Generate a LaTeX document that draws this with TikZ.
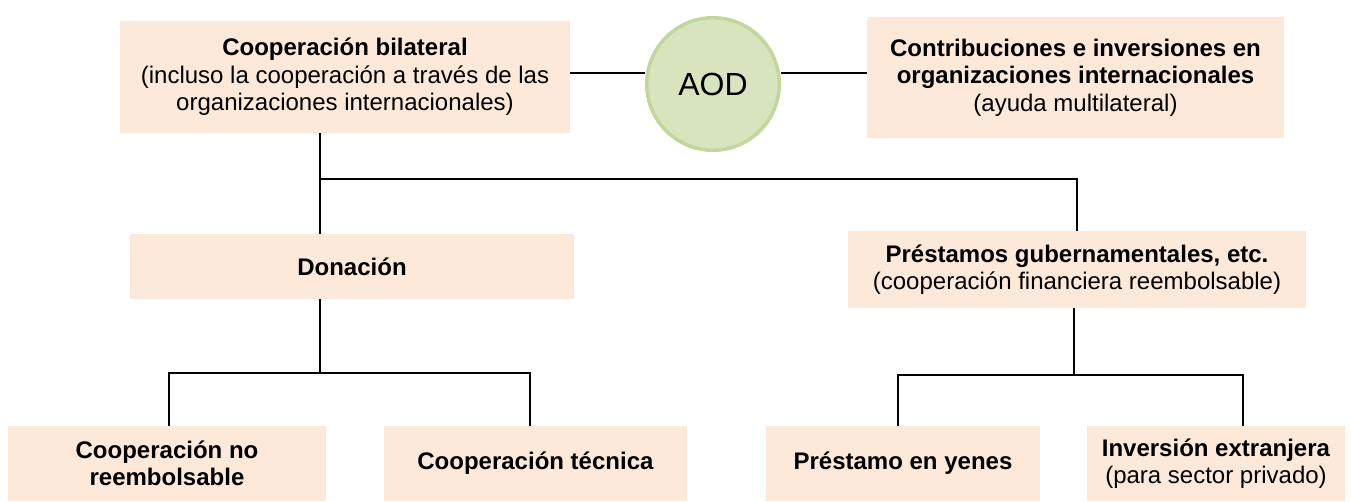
\documentclass[tikz,border=0pt]{standalone}
\usepackage{fontspec}
\setmainfont{Liberation Sans}
\usetikzlibrary{shapes.geometric, positioning}
\definecolor{peach}{HTML}{FDE9D9}
\definecolor{aodfill}{HTML}{D7E4BD}
\definecolor{aoddraw}{HTML}{C3D69B}
\tikzstyle{conn} = [line width=1.5pt, black]
\tikzstyle{block} = [rectangle, align=center, fill=peach, inner sep=0pt, font=\fontsize{18}{20.5}\selectfont]
\tikzstyle{hub} = [circle, minimum size=99.4pt, fill=aodfill, draw=aoddraw, line width=2.6pt, font=\fontsize{24}{28}\selectfont]
\begin{document}
\begin{tikzpicture}[x=0.75pt, y=-0.75pt]
\useasboundingbox (0,0) rectangle (1351,501);

\node (bilat) [block, minimum width=337.5pt, minimum height=84pt] at (345,77) {\textbf{Cooperación bilateral}\\(incluso la cooperación a través de las\\organizaciones internacionales)};
\node (aod) [hub] at (713,84) {AOD};
\node (multi) [block, minimum width=312.75pt, minimum height=90.75pt] at (1075.5,77.5) {\textbf{Contribuciones e inversiones en}\\\textbf{organizaciones internacionales}\\(ayuda multilateral)};

\node (don) [block, minimum width=333pt, minimum height=48.75pt] at (352,266.5) {\textbf{Donación}};
\node (prest) [block, minimum width=343.5pt, minimum height=57.75pt] at (1077,269.5) {\textbf{Préstamos gubernamentales, etc.}\\(cooperación financiera reembolsable)};

\node (noreem) [block, minimum width=238.5pt, minimum height=56.25pt] at (167,463.5) {\textbf{Cooperación no}\\\textbf{reembolsable}};
\node (tecnica) [block, minimum width=227.25pt, minimum height=56.25pt] at (535.5,463.5) {\textbf{Cooperación técnica}};
\node (yenes) [block, minimum width=205.5pt, minimum height=56.25pt] at (903,463.5) {\textbf{Préstamo en yenes}};
\node (inver) [block, minimum width=193.5pt, minimum height=56.25pt] at (1216,463.5) {\textbf{Inversión extranjera}\\(para sector privado)};

\node[coordinate] (aod_y) at (0,73) {};
\node[coordinate] (split) at (320,179) {};
\node[coordinate] (don_fork) at (320,373) {};
\node[coordinate] (l_don) at (169,373) {};
\node[coordinate] (r_don) at (530,373) {};
\node[coordinate] (prest_fork) at (1074,375) {};
\node[coordinate] (l_prest) at (898,375) {};
\node[coordinate] (r_prest) at (1243,375) {};

\draw [conn] (bilat.east |- aod_y) -- (aod.west |- aod_y);
\draw [conn] (aod.east |- aod_y) -- (multi.west |- aod_y);

\draw [conn] (bilat.south -| split) -- (don.north -| split);
\draw [conn] (split) -| (prest.north);

\draw [conn] (don.south -| don_fork) -- (don_fork);
\draw [conn] (noreem.north -| l_don) -- (l_don) -- (r_don) -- (tecnica.north -| r_don);

\draw [conn] (prest.south -| prest_fork) -- (prest_fork);
\draw [conn] (yenes.north -| l_prest) -- (l_prest) -- (r_prest) -- (inver.north -| r_prest);
\end{tikzpicture}
\end{document}
